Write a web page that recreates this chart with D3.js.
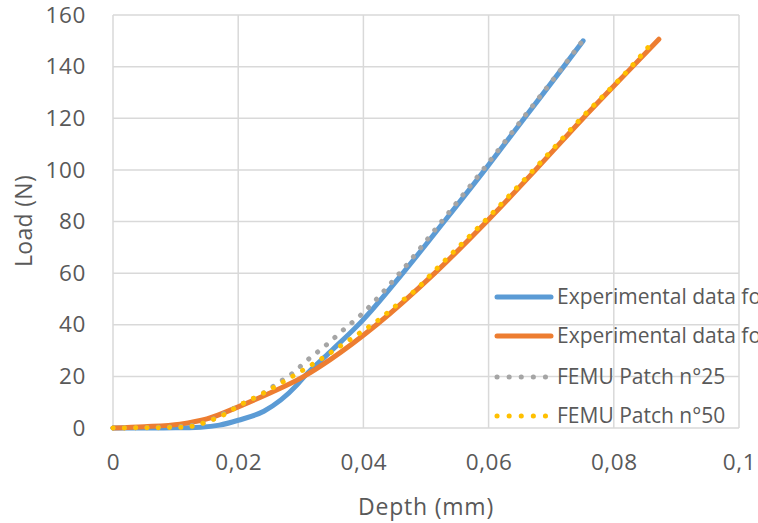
<!DOCTYPE html>
<html>
<head>
<meta charset="utf-8">
<script src="https://cdn.jsdelivr.net/npm/d3@7"></script>
<style>
  body { margin: 0; background: #fff; }
  text { font-family: "Open Sans", "Noto Sans", sans-serif; fill: #595959; }
</style>
</head>
<body>
<svg width="758" height="523"></svg>
<script>
// tick values / labels
var xTicks = [0, 0.02, 0.04, 0.06, 0.08, 0.1];
var xTickLabels = ["0", "0,02", "0,04", "0,06", "0,08", "0,1"];
var yTicks = [0, 20, 40, 60, 80, 100, 120, 140, 160];

var seriesNames = ["Experimental data for Patch n°25", "Experimental data for Patch n°50",
  "FEMU Patch n°25", "FEMU Patch n°50"];

// experimental, patch 25 (blue)
var exp25Depth = [0, 0.005, 0.01, 0.014, 0.017, 0.02, 0.0241, 0.0294, 0.0307, 0.0347, 0.0398, 0.0463, 0.0529, 0.0594, 0.0657, 0.072, 0.0751];
var exp25Load  = [0, 0, 0.05, 0.3, 1.1, 3, 6.5, 16.7, 20.3, 29.5, 41.5, 60, 80, 100, 120, 140, 150];

// experimental, patch 50 (orange)
var exp50Depth = [0, 0.005, 0.0107, 0.015, 0.02, 0.0241, 0.0305, 0.0347, 0.0421, 0.0514, 0.0597, 0.0675, 0.0751, 0.083, 0.0872];
var exp50Load  = [0, 0.5, 1.5, 3.5, 8.2, 12.5, 20, 26.5, 40, 60, 80, 100, 120, 140, 150.6];

// FEMU patch 25 (grey dots)
var femu25Depth = [0, 0.005, 0.01, 0.0138, 0.0154, 0.0186, 0.0203, 0.0238, 0.0267, 0.0283, 0.0311, 0.0339, 0.0368, 0.0396, 0.0458, 0.0525, 0.0591, 0.0655, 0.0719, 0.075];
var femu25Load  = [0, 0.2, 0.5, 1.4, 2.8, 6.7, 8.9, 13.2, 18, 20.5, 26.4, 31.8, 38, 43.8, 60, 80, 100, 120, 140, 150];

// FEMU patch 50 (yellow dots)
var femu50Depth = [0, 0.005, 0.01, 0.0119, 0.0138, 0.0154, 0.0171, 0.0203, 0.0238, 0.027, 0.0302, 0.0334, 0.0366, 0.0396, 0.0426, 0.0455, 0.0485, 0.051, 0.0593, 0.0672, 0.0748, 0.0828, 0.0862];
var femu50Load  = [0, 0.1, 0.2, 0.4, 1.4, 2.8, 4.4, 8.9, 13.2, 17.6, 22.2, 27, 32.2, 37.1, 42.2, 48, 53.8, 60, 80, 100, 120, 140, 149.5];

var colors = ["#5B9BD5", "#ED7D31", "#A5A5A5", "#FFC000"];

var svg = d3.select("svg");

var x = d3.scaleLinear().domain([0, 0.1]).range([113, 739]);
var y = d3.scaleLinear().domain([0, 160]).range([428, 15]);

// grid
var grid = svg.append("g");
grid.selectAll(".gy").data(yTicks).enter().append("line")
  .attr("x1", x(0)).attr("x2", x(0.1))
  .attr("y1", function(d) { return y(d); }).attr("y2", function(d) { return y(d); })
  .attr("stroke", "#d9d9d9").attr("stroke-width", 1.5);
grid.selectAll(".gx").data(xTicks).enter().append("line")
  .attr("x1", function(d) { return x(d); }).attr("x2", function(d) { return x(d); })
  .attr("y1", y(0)).attr("y2", y(160))
  .attr("stroke", "#d9d9d9").attr("stroke-width", 1.5);

// axes (labels only)
var xAxis = svg.append("g").attr("transform", "translate(0," + y(0) + ")")
  .call(d3.axisBottom(x).tickValues(xTicks).tickSize(0).tickPadding(26)
    .tickFormat(function(d, i) { return xTickLabels[i]; }));
var yAxis = svg.append("g").attr("transform", "translate(" + x(0) + ",0)")
  .call(d3.axisLeft(y).tickValues(yTicks).tickSize(0).tickPadding(27));
[xAxis, yAxis].forEach(function(a) {
  a.select(".domain").remove();
  a.selectAll("text").attr("font-size", 22.5).attr("fill", "#595959")
    .attr("letter-spacing", 0.6)
    .attr("font-family", "'Open Sans', sans-serif");
});

var line = d3.line()
  .x(function(d) { return x(d[0]); })
  .y(function(d) { return y(d[1]); })
  .curve(d3.curveMonotoneX);

var series = [
  d3.zip(exp25Depth, exp25Load),
  d3.zip(exp50Depth, exp50Load),
  d3.zip(femu25Depth, femu25Load),
  d3.zip(femu50Depth, femu50Load)
];

series.forEach(function(s, i) {
  var p = svg.append("path").datum(s)
    .attr("d", line)
    .attr("fill", "none")
    .attr("stroke", colors[i])
    .attr("stroke-linecap", "round")
    .attr("stroke-linejoin", "round");
  if (i < 2) {
    p.attr("stroke-width", 5);
  } else {
    p.attr("stroke-width", 5).attr("stroke-dasharray", "0.1,11.2");
  }
});

// axis titles
svg.append("text").attr("x", 426).attr("y", 515)
  .attr("text-anchor", "middle").attr("font-size", 23).attr("letter-spacing", 0.8)
  .text("Depth (mm)");
svg.append("text").attr("transform", "translate(32,221) rotate(-90)")
  .attr("text-anchor", "middle").attr("font-size", 23).attr("letter-spacing", 0.3)
  .text("Load (N)");

// legend
var legY = [297, 336, 377, 416];
var leg = svg.append("g").selectAll("g").data(seriesNames).enter().append("g")
  .attr("transform", function(d, i) { return "translate(0," + legY[i] + ")"; });
leg.append("line")
  .attr("x1", 497).attr("x2", 551).attr("y1", 0).attr("y2", 0)
  .attr("stroke", function(d, i) { return colors[i]; })
  .attr("stroke-width", 5)
  .attr("stroke-linecap", "round")
  .attr("stroke-dasharray", function(d, i) { return i < 2 ? null : "0.1,12"; });
leg.append("text")
  .attr("x", 557).attr("y", 0).attr("dy", "0.35em")
  .attr("font-size", 21)
  .text(function(d) { return d; });
</script>
</body>
</html>
